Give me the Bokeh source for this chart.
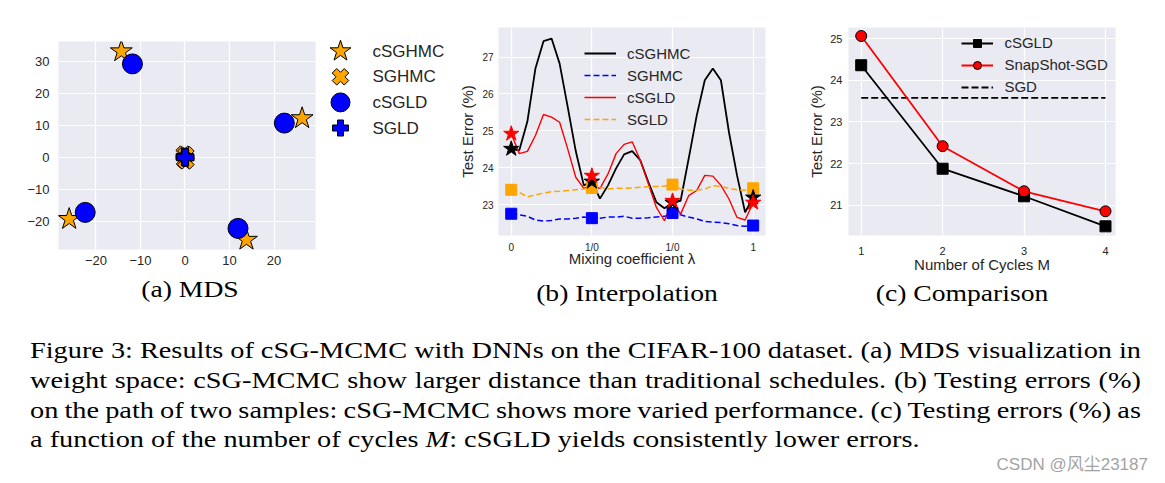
import numpy as np
from bokeh.plotting import figure
from bokeh.layouts import row, column
from bokeh.models import Range1d, FixedTicker, Legend, LegendItem, Div, ColumnDataSource, Spacer
from bokeh.embed import file_html
from bokeh.resources import INLINE
from bokeh.core.properties import value

# ---------------- (a) MDS data ----------------
mds_cSGHMC_x = [-14.3, 26.3, -26.0, 13.8]
mds_cSGHMC_y = [33.1, 12.2, -19.3, -25.8]
mds_SGHMC_x = [-0.2, 0.2, -0.1, 0.2]
mds_SGHMC_y = [1.0, 0.8, -0.9, -1.1]
mds_cSGLD_x = [-11.8, 22.3, -22.4, 11.9]
mds_cSGLD_y = [29.2, 10.7, -17.2, -22.2]
mds_SGLD_x = [0.0, 0.1, -0.1, 0.05]
mds_SGLD_y = [0.2, -0.1, 0.1, 0.0]
mds_ticks_x = [-20, -10, 0, 10, 20]
mds_ticks_y = [-20, -10, 0, 10, 20, 30]
mds_legend_labels = ["cSGHMC", "SGHMC", "cSGLD", "SGLD"]

# ---------------- (b) Interpolation data ----------------
lam = [0.0, 0.1, 0.2, 0.3, 0.4, 0.5, 0.6, 0.7, 0.8, 0.9,
       1.0, 1.1, 1.2, 1.3, 1.4, 1.5, 1.6, 1.7, 1.8, 1.9,
       2.0, 2.1, 2.2, 2.3, 2.4, 2.5, 2.6, 2.7, 2.8, 2.9, 3.0]
interp_cSGHMC = [24.50, 24.47, 25.25, 26.69, 27.43, 27.50, 26.82, 25.65, 24.45, 23.52,
                 23.62, 23.16, 23.52, 23.98, 24.36, 24.45, 24.20, 23.61, 23.06, 22.90,
                 23.05, 23.10, 24.24, 25.41, 26.37, 26.69, 26.37, 24.96, 23.79, 22.79, 23.19]
interp_SGHMC = [22.75, 22.72, 22.68, 22.58, 22.55, 22.57, 22.61, 22.61, 22.63, 22.66,
                22.63, 22.63, 22.66, 22.66, 22.68, 22.63, 22.63, 22.64, 22.66, 22.68,
                22.77, 22.72, 22.66, 22.61, 22.54, 22.52, 22.51, 22.48, 22.43, 22.41, 22.43]
interp_cSGLD = [24.92, 24.38, 24.44, 24.87, 25.44, 25.37, 25.23, 24.51, 23.74, 23.44,
                23.50, 23.44, 23.83, 24.38, 24.63, 24.70, 24.20, 23.56, 22.92, 22.56,
                23.10, 22.74, 23.24, 23.38, 23.79, 23.77, 23.52, 23.15, 22.65, 22.58, 23.05]
interp_SGLD = [23.40, 23.33, 23.21, 23.26, 23.31, 23.35, 23.36, 23.38, 23.40, 23.42,
               23.45, 23.47, 23.42, 23.44, 23.44, 23.45, 23.47, 23.48, 23.49, 23.50,
               23.54, 23.42, 23.39, 23.39, 23.42, 23.51, 23.49, 23.44, 23.40, 23.39, 23.44]
sample_pos = [0, 1, 2, 3]
sample_labels = ["0", "1/0", "1/0", "1"]
star_cSGHMC = [24.51, 23.62, 23.05, 23.19]
star_cSGLD = [24.92, 23.78, 23.10, 23.05]
sq_SGHMC = [22.75, 22.63, 22.77, 22.43]
sq_SGLD = [23.40, 23.45, 23.54, 23.44]
interp_ticks_y = [23, 24, 25, 26, 27]

# ---------------- (c) Comparison data ----------------
cycles = [1, 2, 3, 4]
comp_cSGLD = [24.36, 21.88, 21.22, 20.50]
comp_snapshot = [25.06, 22.42, 21.34, 20.86]
comp_SGD = [23.58, 23.58, 23.58, 23.58]
comp_ticks_y = [21, 22, 23, 24, 25]

subcaptions = ["(a) MDS", "(b) Interpolation", "(c) Comparison"]
cap_lines = [
    "Figure 3: Results of cSG-MCMC with DNNs on the CIFAR-100 dataset. (a) MDS visualization in",
    "weight space: cSG-MCMC show larger distance than traditional schedules. (b) Testing errors (%)",
    "on the path of two samples: cSG-MCMC shows more varied performance. (c) Testing errors (%) as",
    "a function of the number of cycles <i>M</i>: cSGLD yields consistently lower errors.",
]
watermark = "CSDN @\u98ce\u5c1823187"

ORANGE = "#FFA500"
BLUE = "#0000FF"
RED = "#FF0000"
TXT = "#262626"
SANS = "Liberation Sans"
SERIF = "Liberation Serif"

TOP, FRAME_H = 27, 208
BOT_A, BOT_L, BOT_B, BOT_C = 23, 37, 46, 52
ROW_H = 312


def style(p, tick_size, label_size, xs, ys):
    p.background_fill_color = "#EAEAF2"
    p.border_fill_color = "white"
    p.outline_line_color = None
    p.grid.grid_line_color = "white"
    p.grid.grid_line_width = 1.2
    for ax in p.axis:
        ax.axis_line_color = None
        ax.major_tick_line_color = None
        ax.minor_tick_line_color = None
        ax.major_tick_out = 0
        ax.major_tick_in = 0
        ax.minor_tick_out = 0
        ax.minor_tick_in = 0
        ax.major_label_text_font = SANS
        ax.major_label_text_font_size = tick_size
        ax.major_label_text_color = TXT
        ax.axis_label_text_font = SANS
        ax.axis_label_text_font_size = label_size
        ax.axis_label_text_font_style = "normal"
        ax.axis_label_text_color = TXT
    p.xaxis.major_label_standoff = xs
    p.yaxis.major_label_standoff = ys


def sub_div(text, left, top, width, height):
    html = ("<div style='position:relative;width:{w}px;height:{h}px;'>"
            "<div style=\"position:absolute;left:{l:.1f}px;top:{t:.1f}px;width:300px;height:10px;"
            "line-height:10px;text-align:center;white-space:nowrap;font-family:'Liberation Serif';"
            "font-size:24px;color:#000;transform:scaleX(1.15);transform-origin:50% 50%;\">{x}</div>"
            "</div>").format(w=width, h=height, l=left, t=top, x=text)
    return Div(text=html, width=width, height=height, margin=(0, 0, 0, 0))


# ================= (a) =================
H_A = TOP + FRAME_H + BOT_A
fa = figure(width=320, height=H_A, x_range=Range1d(-28.4, 29.3),
            y_range=Range1d(-28.8, 36.2),
            output_backend="svg", toolbar_location=None,
            min_border_left=58, min_border_right=5, min_border_top=TOP, min_border_bottom=BOT_A)
style(fa, "13px", "13px", 6, 9)
fa.xaxis.ticker = FixedTicker(ticks=mds_ticks_x)
fa.yaxis.ticker = FixedTicker(ticks=mds_ticks_y)
fa.xaxis.major_label_overrides = {t: str(t).replace("-", "\u2212") for t in mds_ticks_x}
fa.yaxis.major_label_overrides = {t: str(t).replace("-", "\u2212") for t in mds_ticks_y}
fa.scatter(mds_cSGHMC_x, mds_cSGHMC_y, marker="star", size=23, fill_color=ORANGE,
           line_color="black", line_width=1)
fa.scatter(mds_cSGLD_x, mds_cSGLD_y, marker="circle", size=20, fill_color=BLUE,
           line_color="black", line_width=1)
fa.scatter(mds_SGHMC_x, mds_SGHMC_y, marker="plus", angle=np.pi / 4, size=17, fill_color=ORANGE,
           line_color="black", line_width=1)
fa.scatter(mds_SGLD_x, mds_SGLD_y, marker="plus", size=17, fill_color=BLUE,
           line_color="black", line_width=1)
y_a = 14 + H_A
col_a = column(Spacer(width=320, height=14), fa,
               sub_div(subcaptions[0], 190 - 150, 297.3 - 13.1 - y_a, 320, ROW_H - y_a))

# legend for (a), drawn as a side panel
fleg = figure(width=130, height=TOP + FRAME_H + BOT_L, x_range=Range1d(0, 130),
              y_range=Range1d(7.199, -0.926),
              output_backend="svg", toolbar_location=None,
              min_border_left=0, min_border_right=0, min_border_top=TOP, min_border_bottom=BOT_L)
fleg.axis.visible = False
fleg.grid.visible = False
fleg.outline_line_color = None
fleg.background_fill_color = "white"
leg_src = ColumnDataSource(dict(
    mx=[20, 20, 20, 20], my=[0, 1, 2, 3], tx=[52, 52, 52, 52],
    label=mds_legend_labels,
    marker=["star", "plus", "circle", "plus"],
    angle=[0, np.pi / 4, 0, 0],
    size=[22, 17, 19, 16],
    color=[ORANGE, ORANGE, BLUE, BLUE],
))
fleg.scatter(x="mx", y="my", marker="marker", size="size", angle="angle", fill_color="color",
             line_color="black", line_width=1, source=leg_src)
fleg.text(x="tx", y="my", text="label", source=leg_src, text_font=value(SANS),
          text_font_size=value("17px"), text_baseline="middle", text_color=TXT)

# ================= (b) =================
H_B = TOP + FRAME_H + BOT_B
fb = figure(width=340, height=H_B, x_range=Range1d(-0.158, 3.153),
            y_range=Range1d(22.16, 27.80),
            output_backend="svg", toolbar_location=None,
            min_border_left=48, min_border_right=25, min_border_top=TOP, min_border_bottom=BOT_B)
style(fb, "10px", "15px", 6, 5)
fb.xaxis.ticker = FixedTicker(ticks=sample_pos)
fb.xaxis.major_label_overrides = {p: l for p, l in zip(sample_pos, sample_labels)}
fb.yaxis.ticker = FixedTicker(ticks=interp_ticks_y)
fb.xaxis.axis_label = "Mixing coefficient \u03bb"
fb.yaxis.axis_label = "Test Error (%)"
fb.xaxis.axis_label_standoff = -6
fb.yaxis.axis_label_standoff = 3
rb1 = fb.line(lam, interp_cSGHMC, line_color="black", line_width=1.8)
rb2 = fb.line(lam, interp_SGHMC, line_color=BLUE, line_width=1.5, line_dash="6 3")
rb3 = fb.line(lam, interp_cSGLD, line_color=RED, line_width=1.4)
rb4 = fb.line(lam, interp_SGLD, line_color=ORANGE, line_width=1.5, line_dash="6 3")
fb.scatter(sample_pos, sq_SGHMC, marker="square", size=11, fill_color=BLUE, line_color=BLUE)
fb.scatter(sample_pos, sq_SGLD, marker="square", size=11, fill_color=ORANGE, line_color=ORANGE)
fb.scatter(sample_pos, star_cSGHMC, marker="star", size=16, fill_color="black", line_color="black")
fb.scatter(sample_pos, star_cSGLD, marker="star", size=16, fill_color=RED, line_color=RED)
leg_b = Legend(items=[LegendItem(label="cSGHMC", renderers=[rb1]),
                      LegendItem(label="SGHMC", renderers=[rb2]),
                      LegendItem(label="cSGLD", renderers=[rb3]),
                      LegendItem(label="SGLD", renderers=[rb4])],
               location=(86, 106), padding=0, margin=0, spacing=2,
               glyph_width=32, glyph_height=20, label_standoff=11,
               label_text_font=SANS, label_text_font_size="15px", label_text_color=TXT,
               background_fill_alpha=0, border_line_color=None)
fb.add_layout(leg_b)
col_b = column(fb, sub_div(subcaptions[1], 626.7 - 450 - 150, 300.7 - 13.1 - H_B, 340, ROW_H - H_B))

# ================= (c) =================
H_C = TOP + FRAME_H + BOT_C
fc = figure(width=367, height=H_C, x_range=Range1d(0.844, 4.123),
            y_range=Range1d(20.28, 25.264),
            output_backend="svg", toolbar_location=None,
            min_border_left=58, min_border_right=42, min_border_top=TOP, min_border_bottom=BOT_C)
style(fc, "11px", "15px", 11, 6)
fc.xaxis.ticker = FixedTicker(ticks=cycles)
fc.yaxis.ticker = FixedTicker(ticks=comp_ticks_y)
fc.xaxis.axis_label = "Number of Cycles M"
fc.yaxis.axis_label = "Test Error (%)"
fc.xaxis.axis_label_standoff = -2
fc.yaxis.axis_label_standoff = 2
rc_sgd = fc.line(cycles, comp_SGD, line_color="black", line_width=1.8, line_dash="7 3")
rc1l = fc.line(cycles, comp_cSGLD, line_color="black", line_width=1.8)
rc1s = fc.scatter(cycles, comp_cSGLD, marker="square", size=11, fill_color="black", line_color="black")
rc2l = fc.line(cycles, comp_snapshot, line_color=RED, line_width=1.8)
rc2s = fc.scatter(cycles, comp_snapshot, marker="circle", size=11, fill_color=RED, line_color="black")
leg_c = Legend(items=[LegendItem(label="cSGLD", renderers=[rc1l, rc1s]),
                      LegendItem(label="SnapShot-SGD", renderers=[rc2l, rc2s]),
                      LegendItem(label="SGD", renderers=[rc_sgd])],
               location=(113.4, 138.3), padding=0, margin=0, spacing=2,
               glyph_width=32, glyph_height=20, label_standoff=11,
               label_text_font=SANS, label_text_font_size="15px", label_text_color=TXT,
               background_fill_alpha=0, border_line_color=None)
fc.add_layout(leg_c)
col_c = column(fc, sub_div(subcaptions[2], 961.7 - 790 - 150, 300.7 - 13.1 - H_C, 367, ROW_H - H_C))

# ================= caption, watermark =================
jl = ("<div style='height:29.7px;line-height:29.7px;white-space:nowrap;word-spacing:-2px;"
      "text-align:justify;text-align-last:justify;'>{}</div>")
ll = "<div style='height:29.7px;line-height:29.7px;white-space:nowrap;'>{}</div>"
body = "".join(jl.format(t) for t in cap_lines[:3]) + ll.format(cap_lines[3])
SCALE = 1.18
CAP_H = 168
html = (
    "<div style='position:relative;width:1157px;height:{}px;'>".format(CAP_H) +
    "<div style=\"position:absolute;left:30px;top:{:.2f}px;width:{:.1f}px;"
    "font-family:'Liberation Serif';font-size:24px;color:#000;"
    "transform:scaleX({});transform-origin:0 0;\">".format(359.3 - 22.95 - ROW_H, 1111 / SCALE, SCALE)
    + body + "</div>"
    "<div style=\"position:absolute;right:9px;top:{:.1f}px;line-height:20px;white-space:nowrap;"
    "font-family:'Liberation Sans','Noto Sans CJK SC';font-size:17px;color:#a3a3a3;\">".format(
        470.7 - 15.9 - ROW_H)
    + watermark + "</div></div>"
)
cap = Div(text=html, width=1157, height=CAP_H, margin=(0, 0, 0, 0))

layout = column(row(col_a, fleg, col_b, col_c), cap)
open("out.html", "w").write(file_html(layout, INLINE))
